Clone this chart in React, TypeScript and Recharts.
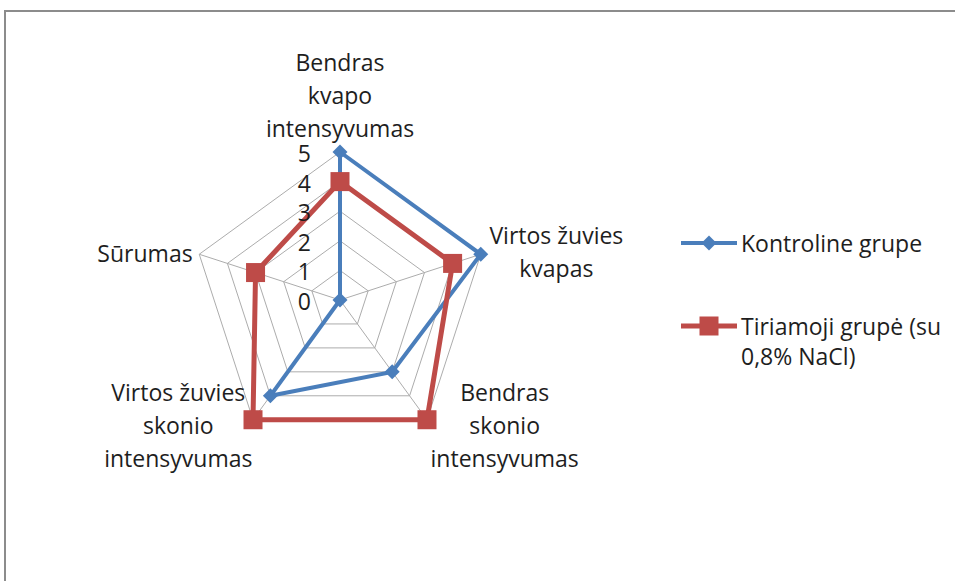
import { Legend, PolarAngleAxis, PolarGrid, PolarRadiusAxis, Radar, RadarChart } from "recharts"

const categories = [
  "Bendras kvapo intensyvumas",
  "Virtos žuvies kvapas",
  "Bendras skonio intensyvumas",
  "Virtos žuvies skonio intensyvumas",
  "Sūrumas",
]

// how each category label breaks into lines (as in the original)
const categoryLines = [
  ["Bendras", "kvapo", "intensyvumas"],
  ["Virtos žuvies", "kvapas"],
  ["Bendras", "skonio", "intensyvumas"],
  ["Virtos žuvies", "skonio", "intensyvumas"],
  ["Sūrumas"],
]

const kontroline = [5, 5, 3, 4, 0]
const tiriamoji = [4, 4, 5, 5, 3]

const radiusTicks = [0, 1, 2, 3, 4, 5]

const seriesNames = ["Kontroline grupe", "Tiriamoji grupė (su 0,8% NaCl)"]
const legendLines = [["Kontroline grupe"], ["Tiriamoji grupė (su", "0,8% NaCl)"]]

const data = categories.map((c, i) => ({
  category: c,
  kontroline: kontroline[i],
  tiriamoji: tiriamoji[i],
}))

const BLUE = "#4A7EBB"
const RED = "#BE4B48"
const FONT = "'Open Sans', sans-serif"
const FS = 23
const LH = 33

// label block placement relative to the tick point
const labelPlace = [
  { dx: 0, dy: -16, anchor: "middle", valign: "bottom" },
  { dx: 68, dy: 0, anchor: "middle", valign: "center" },
  { dx: 73, dy: -1, anchor: "middle", valign: "center" },
  { dx: -70, dy: -1, anchor: "middle", valign: "center" },
  { dx: 1, dy: 1, anchor: "end", valign: "center" },
]

const AngleTick = (props: any) => {
  const { x, y, index } = props
  const lines = categoryLines[index]
  const p = labelPlace[index]
  const n = lines.length
  const firstY =
    p.valign === "bottom" ? y + p.dy - (n - 1) * LH : y + p.dy - ((n - 1) * LH) / 2
  return (
    <text
      x={x + p.dx}
      y={firstY}
      textAnchor={p.anchor}
      fontFamily={FONT}
      fontSize={FS}
      fill="#1e1e1e"
    >
      {lines.map((l, i) => (
        <tspan key={i} x={x + p.dx} y={firstY + i * LH} dominantBaseline="central">
          {l}
        </tspan>
      ))}
    </text>
  )
}

const RadiusTick = (props: any) => {
  const { x, y, payload } = props
  return (
    <text
      x={x - 29}
      y={y + 1}
      textAnchor="end"
      dominantBaseline="central"
      fontFamily={FONT}
      fontSize={FS}
      fill="#1e1e1e"
    >
      {payload.value}
    </text>
  )
}

const Diamond = (props: any) => {
  const { cx, cy } = props
  const s = 7.5
  return (
    <path
      key={`d-${cx}-${cy}`}
      d={`M${cx},${cy - s}L${cx + s},${cy}L${cx},${cy + s}L${cx - s},${cy}Z`}
      fill={BLUE}
    />
  )
}

const Square = (props: any) => {
  const { cx, cy } = props
  const s = 9.5
  return <rect key={`s-${cx}-${cy}`} x={cx - s} y={cy - s} width={s * 2} height={s * 2} fill={RED} />
}

const LegendContent = () => {
  const colors = [BLUE, RED]
  const tops = [243, 326]
  return (
    <svg width={290} height={160} style={{ position: "absolute", left: 665, top: 0, overflow: "visible" }}>
      {seriesNames.map((name, i) => {
        const y = tops[i] - 225
        return (
          <g key={name}>
            <line x1={16} x2={72} y1={y} y2={y} stroke={colors[i]} strokeWidth={i === 0 ? 4 : 5} />
            {i === 0 ? (
              <Diamond cx={44} cy={y} />
            ) : (
              <Square cx={44} cy={y} />
            )}
            <text fontFamily={FONT} fontSize={FS} fill="#1e1e1e">
              {legendLines[i].map((l, j) => (
                <tspan key={j} x={76} y={y + j * 30} dominantBaseline="central">
                  {l}
                </tspan>
              ))}
            </text>
          </g>
        )
      })}
    </svg>
  )
}

export default function App() {
  return (
    <div
      style={{
        position: "absolute",
        left: 0,
        top: 0,
        width: 955,
        height: 581,
        overflow: "hidden",
        background: "#fff",
      }}
    >
      <div
        style={{
          position: "absolute",
          left: 4,
          top: 10,
          width: 1200,
          height: 1200,
          border: "2px solid #8c8c8c",
        }}
      />
      <RadarChart
        width={955}
        height={581}
        data={data}
        cx={340}
        cy={300}
        outerRadius={148}
        margin={{ top: 0, right: 0, bottom: 0, left: 0 }}
      >
        <PolarGrid gridType="polygon" stroke="#acacac" strokeWidth={1} />
        <PolarAngleAxis dataKey="category" tick={AngleTick} tickLine={false} axisLine={false} />
        <PolarRadiusAxis
          angle={90}
          domain={[0, 5]}
          ticks={radiusTicks}
          tick={RadiusTick}
          axisLine={false}
          tickLine={false}
        />
        <Radar
          name={seriesNames[0]}
          dataKey="kontroline"
          stroke={BLUE}
          strokeWidth={4}
          fill="none"
          fillOpacity={0}
          dot={Diamond}
          isAnimationActive={false}
        />
        <Radar
          name={seriesNames[1]}
          dataKey="tiriamoji"
          stroke={RED}
          strokeWidth={5}
          fill="none"
          fillOpacity={0}
          dot={Square}
          isAnimationActive={false}
        />
        <Legend
          content={LegendContent}
          wrapperStyle={{ position: "absolute", left: 0, top: 225, width: 955 }}
        />
      </RadarChart>
    </div>
  )
}
